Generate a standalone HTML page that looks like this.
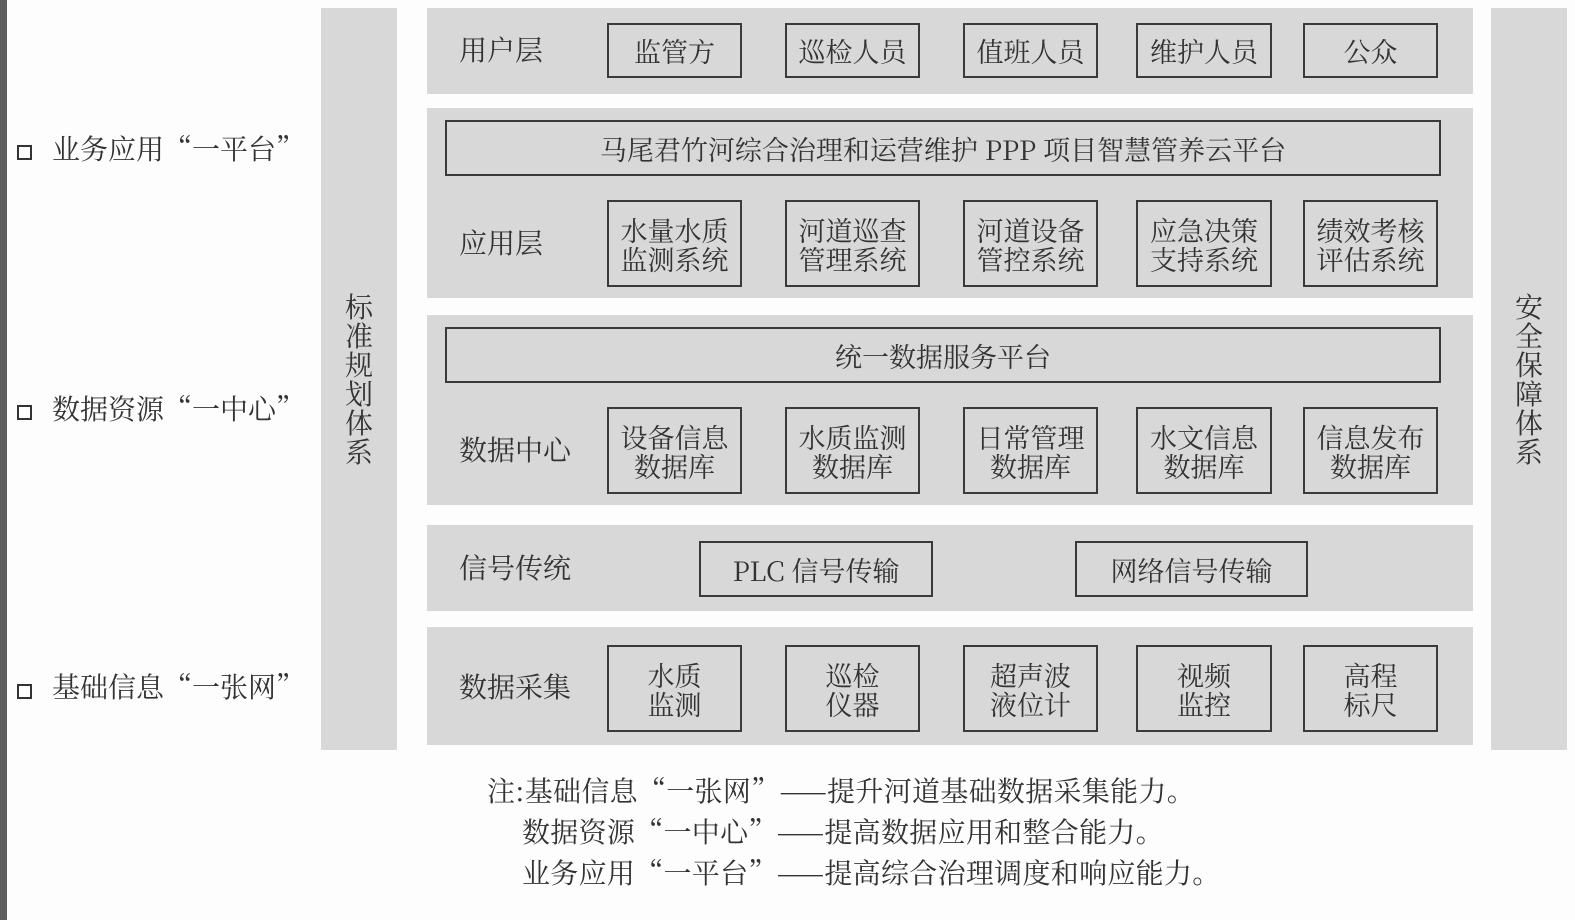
<!DOCTYPE html>
<html><head><meta charset="utf-8"><style>
body{margin:0;width:1575px;height:920px;background:#fdfdfd;position:relative;overflow:hidden;font-family:"Noto Serif CJK SC","Liberation Serif",serif;color:#333}
.a{position:absolute}
.p{position:absolute;background:#d8d8d8}
.b{position:absolute;border:2px solid #3a3a3a;box-sizing:border-box;display:flex;align-items:center;justify-content:center;text-align:center;font-size:27px;line-height:29px;background:#d8d8d8}
.l{position:absolute;font-size:28px;line-height:30px}
.v{position:absolute;font-size:28px;line-height:29px;width:30px;text-align:center}
.sq{position:absolute;width:11px;height:11px;border:2px solid #333}
.n{letter-spacing:0.3px}
</style></head><body>
<div class="a" style="left:0;top:0;width:7px;height:920px;background:#5e5e5e"></div>
<div class="p" style="left:321px;top:8px;width:76px;height:742px"></div>
<div class="v" style="left:344px;top:292px">标准规划体系</div>
<div class="p" style="left:1491px;top:8px;width:76px;height:742px"></div>
<div class="v" style="left:1514px;top:292px">安全保障体系</div>

<div class="sq" style="left:17px;top:145px"></div><div class="l" style="left:52px;top:133px">业务应用“一平台”</div>
<div class="sq" style="left:17px;top:405px"></div><div class="l" style="left:52px;top:393px">数据资源“一中心”</div>
<div class="sq" style="left:17px;top:684px"></div><div class="l" style="left:52px;top:671px">基础信息“一张网”</div>

<div class="p" style="left:427px;top:8px;width:1046px;height:86px"></div>
<div class="l" style="left:459px;top:34px">用户层</div>
<div class="b" style="left:607px;top:23px;width:135px;height:55px">监管方</div>
<div class="b" style="left:785px;top:23px;width:135px;height:55px">巡检人员</div>
<div class="b" style="left:963px;top:23px;width:135px;height:55px">值班人员</div>
<div class="b" style="left:1136px;top:23px;width:136px;height:55px">维护人员</div>
<div class="b" style="left:1303px;top:23px;width:135px;height:55px">公众</div>

<div class="p" style="left:427px;top:108px;width:1046px;height:190px"></div>
<div class="b" style="left:445px;top:120px;width:996px;height:56px">马尾君竹河综合治理和运营维护 PPP 项目智慧管养云平台</div>
<div class="l" style="left:459px;top:227px">应用层</div>
<div class="b" style="left:607px;top:200px;width:135px;height:87px">水量水质<br>监测系统</div>
<div class="b" style="left:785px;top:200px;width:135px;height:87px">河道巡查<br>管理系统</div>
<div class="b" style="left:963px;top:200px;width:135px;height:87px">河道设备<br>管控系统</div>
<div class="b" style="left:1136px;top:200px;width:136px;height:87px">应急决策<br>支持系统</div>
<div class="b" style="left:1303px;top:200px;width:135px;height:87px">绩效考核<br>评估系统</div>

<div class="p" style="left:427px;top:315px;width:1046px;height:190px"></div>
<div class="b" style="left:445px;top:327px;width:996px;height:56px">统一数据服务平台</div>
<div class="l" style="left:459px;top:434px">数据中心</div>
<div class="b" style="left:607px;top:407px;width:135px;height:87px">设备信息<br>数据库</div>
<div class="b" style="left:785px;top:407px;width:135px;height:87px">水质监测<br>数据库</div>
<div class="b" style="left:963px;top:407px;width:135px;height:87px">日常管理<br>数据库</div>
<div class="b" style="left:1136px;top:407px;width:136px;height:87px">水文信息<br>数据库</div>
<div class="b" style="left:1303px;top:407px;width:135px;height:87px">信息发布<br>数据库</div>

<div class="p" style="left:427px;top:525px;width:1046px;height:86px"></div>
<div class="l" style="left:459px;top:552px">信号传统</div>
<div class="b" style="left:699px;top:541px;width:234px;height:56px">PLC 信号传输</div>
<div class="b" style="left:1075px;top:541px;width:233px;height:56px">网络信号传输</div>

<div class="p" style="left:427px;top:627px;width:1046px;height:118px"></div>
<div class="l" style="left:459px;top:671px">数据采集</div>
<div class="b" style="left:607px;top:645px;width:135px;height:87px">水质<br>监测</div>
<div class="b" style="left:785px;top:645px;width:135px;height:87px">巡检<br>仪器</div>
<div class="b" style="left:963px;top:645px;width:135px;height:87px">超声波<br>液位计</div>
<div class="b" style="left:1136px;top:645px;width:136px;height:87px">视频<br>监控</div>
<div class="b" style="left:1303px;top:645px;width:135px;height:87px">高程<br>标尺</div>

<div class="l n" style="left:487px;top:775px">注:基础信息“一张网”——提升河道基础数据采集能力。</div>
<div class="l n" style="left:522px;top:816px">数据资源“一中心”——提高数据应用和整合能力。</div>
<div class="l n" style="left:522px;top:857px">业务应用“一平台”——提高综合治理调度和响应能力。</div>
</body></html>
